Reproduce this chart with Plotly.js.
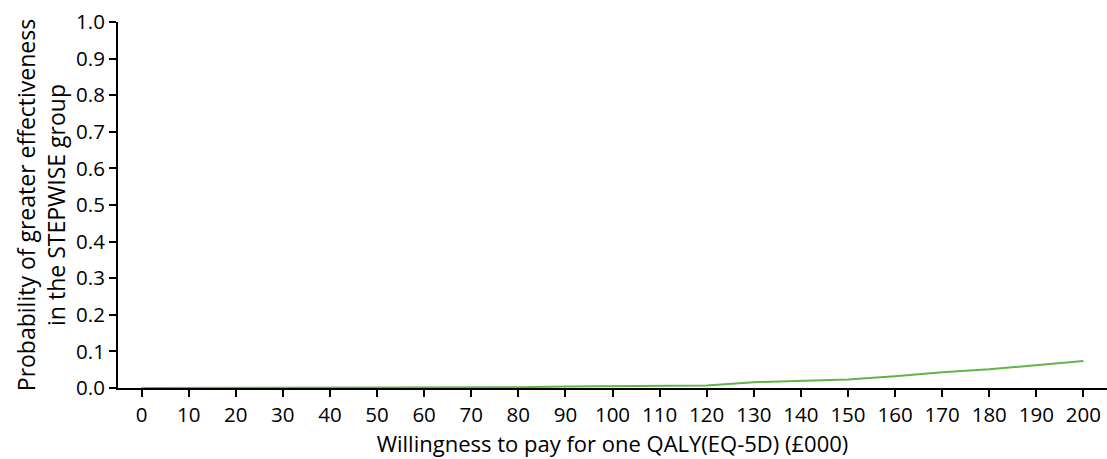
<!DOCTYPE html>
<html><head><meta charset="utf-8">
<script src="https://cdn.plot.ly/plotly-3.0.1.min.js"></script>
<style>html,body{margin:0;padding:0;background:#fff;}#chart{width:1107px;height:459px;}</style>
</head><body><div id="chart"></div>
<script>
const wtp = ['0','10','20','30','40','50','60','70','80','90','100','110','120','130','140','150','160','170','180','190','200'];
const probability = [0,0,0,0,0,0,0,0.002,0.002,0.004,0.005,0.007,0.007,0.016,0.020,0.023,0.032,0.043,0.051,0.063,0.074];
const yTicks = [0,0.1,0.2,0.3,0.4,0.5,0.6,0.7,0.8,0.9,1.0];
const yTickText = ['0.0','0.1','0.2','0.3','0.4','0.5','0.6','0.7','0.8','0.9','1.0'];

const fam = '"Open Sans", "Noto Sans", sans-serif';
const tickFont = {family:fam, size:20.5, color:'#000'};
Plotly.newPlot('chart', [{
  x: wtp, y: probability, type:'scatter', mode:'lines',
  line:{color:'#62b446', width:2}, cliponaxis:false
}], {
  width:1107, height:459,
  margin:{l:118, r:0, t:22, b:71},
  paper_bgcolor:'#fff', plot_bgcolor:'#fff',
  font: tickFont,
  showlegend:false,
  xaxis:{type:'category', range:[-0.5,20.5], showline:true, linecolor:'#000', linewidth:2,
    ticks:'outside', ticklen:7, tickwidth:2, tickcolor:'#000', showgrid:false, zeroline:false,
    tickfont:tickFont, title:{text:'Willingness to pay for one QALY(EQ-5D) (£000)', font:{family:fam, size:22, color:'#000'}, standoff:4}},
  yaxis:{range:[0,1.0], tickvals:yTicks, ticktext:yTickText, showline:true, linecolor:'#000', linewidth:2,
    ticks:'outside', ticklen:7, tickwidth:2, tickcolor:'#000', showgrid:false, zeroline:false,
    tickfont:tickFont, title:{text:'Probability of greater effectiveness<br>in the STEPWISE group', font:{family:fam, size:23, color:'#000'}, standoff:4}}
}, {displayModeBar:false, staticPlot:true});
</script></body></html>
